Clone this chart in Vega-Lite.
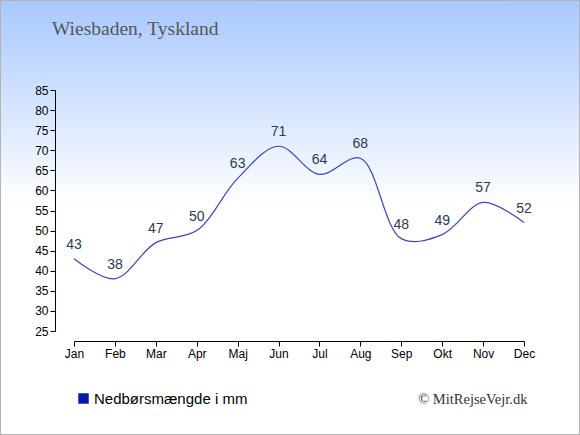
{
  "$schema": "https://vega.github.io/schema/vega-lite/v6.json",
  "width": 580,
  "height": 435,
  "autosize": "none",
  "padding": 0,
  "background": "#ffffff",
  "title": {
    "text": "Wiesbaden, Tyskland",
    "anchor": "start",
    "frame": "group",
    "orient": "top",
    "offset": 0,
    "dx": 52,
    "dy": 54,
    "baseline": "alphabetic",
    "font": "Liberation Serif",
    "fontSize": 19.5,
    "fontWeight": "normal",
    "color": "#555555"
  },
  "config": {
    "view": {
      "stroke": "#b4b4b4",
      "strokeWidth": 2,
      "fill": {
        "gradient": "linear",
        "x1": 0, "y1": 0, "x2": 0, "y2": 1,
        "stops": [
          {"offset": 0, "color": "#a8c8ff"},
          {"offset": 0.47, "color": "#ffffff"},
          {"offset": 1, "color": "#ffffff"}
        ]
      }
    },
    "axis": {
      "labelFont": "Liberation Sans",
      "labelFontSize": 12,
      "labelColor": "#000000",
      "domainColor": "#000000",
      "tickColor": "#000000",
      "tickSize": 5,
      "grid": false
    }
  },
  "data": {
    "values": [
      {"month": "Jan", "mm": 43, "serie": "Nedbørsmængde i mm"},
      {"month": "Feb", "mm": 38, "serie": "Nedbørsmængde i mm"},
      {"month": "Mar", "mm": 47, "serie": "Nedbørsmængde i mm"},
      {"month": "Apr", "mm": 50, "serie": "Nedbørsmængde i mm"},
      {"month": "Maj", "mm": 63, "serie": "Nedbørsmængde i mm"},
      {"month": "Jun", "mm": 71, "serie": "Nedbørsmængde i mm"},
      {"month": "Jul", "mm": 64, "serie": "Nedbørsmængde i mm"},
      {"month": "Aug", "mm": 68, "serie": "Nedbørsmængde i mm"},
      {"month": "Sep", "mm": 48, "serie": "Nedbørsmængde i mm"},
      {"month": "Okt", "mm": 49, "serie": "Nedbørsmængde i mm"},
      {"month": "Nov", "mm": 57, "serie": "Nedbørsmængde i mm"},
      {"month": "Dec", "mm": 52, "serie": "Nedbørsmængde i mm"}
    ]
  },
  "encoding": {
    "x": {
      "field": "month",
      "type": "ordinal",
      "sort": null,
      "scale": {"type": "point", "padding": 0, "range": [74, 524]},
      "axis": {
        "orient": "bottom",
        "offset": -94,
        "labelAngle": 0,
        "labelPadding": 2,
        "title": "© MitRejseVejr.dk",
        "titleFont": "Liberation Serif",
        "titleFontSize": 14.5,
        "titleFontWeight": "normal",
        "titleColor": "#333333",
        "titleAnchor": "end",
        "titleAlign": "right",
        "titleBaseline": "alphabetic",
        "titleX": 527,
        "titleY": 62
      }
    },
    "y": {
      "field": "mm",
      "type": "quantitative",
      "scale": {"domain": [25, 85], "range": [331, 90], "nice": false, "zero": false},
      "axis": {
        "orient": "left",
        "offset": -55,
        "values": [25, 30, 35, 40, 45, 50, 55, 60, 65, 70, 75, 80, 85],
        "labelPadding": 2,
        "title": null
      }
    }
  },
  "layer": [
    {
      "mark": {"type": "line", "interpolate": "catmull-rom", "strokeWidth": 1.2},
      "encoding": {
        "color": {
          "field": "serie",
          "type": "nominal",
          "scale": {"range": ["#3a46c8"]},
          "legend": {
            "orient": "none",
            "legendX": 76,
            "legendY": 391,
            "title": null,
            "padding": 0,
            "symbolType": "square",
            "symbolSize": 110,
            "labelFont": "Liberation Sans",
            "labelFontSize": 15,
            "labelColor": "#000000",
            "labelOffset": 3,
            "encode": {
              "symbols": {
                "update": {
                  "fill": {"value": "#0a1aa8"},
                  "stroke": {"value": "#0a1aa8"},
                  "strokeWidth": {"value": 0}
                }
              }
            }
          }
        }
      }
    },
    {
      "mark": {
        "type": "text",
        "baseline": "middle",
        "dy": -14,
        "font": "Liberation Sans",
        "fontSize": 14,
        "color": "#2b3a55"
      },
      "encoding": {
        "text": {"field": "mm", "type": "quantitative"}
      }
    }
  ]
}
